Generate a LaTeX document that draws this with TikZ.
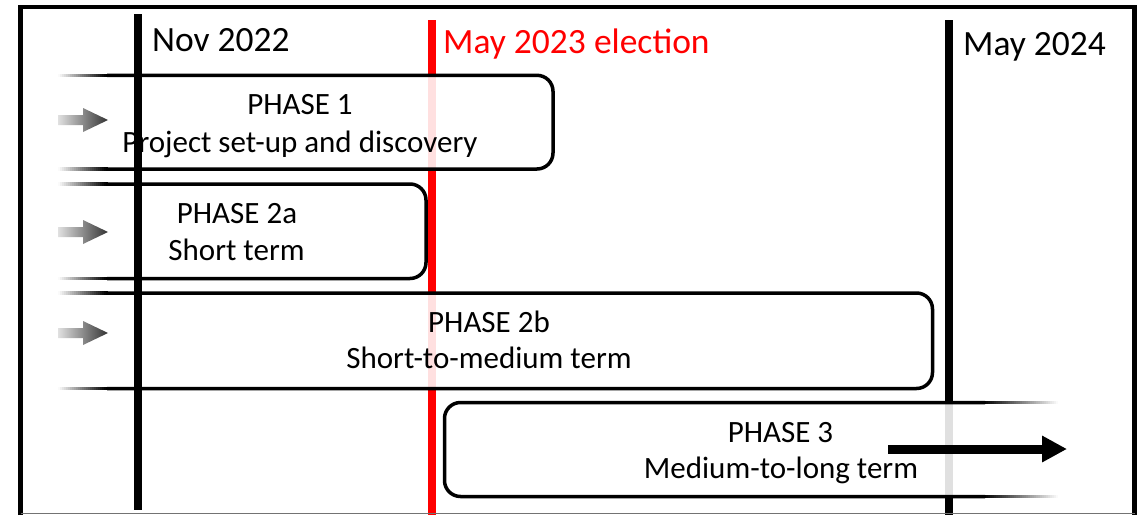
\documentclass[tikz,border=0pt]{standalone}
\usepackage{fontspec}
\setmainfont{Carlito}
\usetikzlibrary{arrows.meta}
\begin{document}
\begin{tikzpicture}[x=1pt,y=-1pt,
  headlbl/.style={font=\fontsize{35.5}{40}\selectfont, inner sep=0, anchor=base west},
  phasetxt/.style={font=\fontsize{31}{36}\selectfont, inner sep=0, anchor=base},
  timeline/.style={line width=8},
  boxline/.style={line width=3.5, rounded corners=16},
  boxfill/.style={fill=white, fill opacity=0.88, rounded corners=16},
  fadeseg/.style={line width=3.5},
  greyarrow/.style={left color=black!12, right color=black!80},
  bigarrow/.style={line width=9, -{Triangle[length=25pt,width=25pt]}}
]
\useasboundingbox (0,0) rectangle (1144,515);
\fill[white] (0,0) rectangle (1144,515);

% background time lines
\draw[timeline, red] (431.5,20) -- (431.5,515);
\draw[timeline, black] (948.5,20) -- (948.5,515);

% header labels
\node[headlbl] (nov) at (152,51) {Nov 2022};
\node[headlbl, text=red] (may23) at (443,53) {May 2023 election};
\node[headlbl] (may24) at (963,55) {May 2024};

% box fills
\fill[boxfill] (58,75.3) -- (553,75.3) -- (553,169) -- (58,169) -- cycle;
\fill[boxfill] (58,184) -- (426,184) -- (426,278.5) -- (58,278.5) -- cycle;
\fill[boxfill] (58,293) -- (932.5,293) -- (932.5,388.5) -- (58,388.5) -- cycle;
\fill[boxfill] (444.5,402.5) -- (1060,402.5) -- (1060,496.5) -- (444.5,496.5) -- cycle;

% box outlines
\draw[boxline] (107,75.3) -- (553,75.3) -- (553,169) -- (107,169);
\draw[boxline] (107,184) -- (426,184) -- (426,278.5) -- (107,278.5);
\draw[boxline] (107,293) -- (932.5,293) -- (932.5,388.5) -- (107,388.5);
\draw[boxline] (985,402.5) -- (444.5,402.5) -- (444.5,496.5) -- (985,496.5);

% fading line ends (left)
\foreach \yy in {75.3,169,184,278.5,293,388.5} {
  \foreach \i in {0,...,24} {
    \pgfmathtruncatemacro\pc{min(100,4.2*\i+2)}
    \draw[fadeseg, black!\pc] ({58+2*\i},\yy) -- ({60.2+2*\i},\yy);
  }
}
% fading line ends (right, phase 3)
\foreach \yy in {402.5,496.5} {
  \foreach \i in {0,...,37} {
    \pgfmathtruncatemacro\pc{max(0,100-2.7*\i)}
    \draw[fadeseg, black!\pc] ({984+2*\i},\yy) -- ({986.2+2*\i},\yy);
  }
}

% grey arrows
\shade[greyarrow] (58,115) -- (83,115) -- (83,108) -- (108,120) -- (83,132) -- (83,125) -- (58,125) -- cycle;
\shade[greyarrow] (58,227) -- (83,227) -- (83,220) -- (108,232) -- (83,244) -- (83,237) -- (58,237) -- cycle;
\shade[greyarrow] (58,328) -- (83,328) -- (83,321) -- (108,333) -- (83,345) -- (83,338) -- (58,338) -- cycle;

% phase texts
\node[phasetxt] (p1t) at (300,114) {PHASE 1};
\node[phasetxt] (p1s) at (300,152) {Project set-up and discovery};
\node[phasetxt] (p2at) at (237,223) {PHASE 2a};
\node[phasetxt] (p2as) at (236.5,260) {Short term};
\node[phasetxt] (p2bt) at (489,332) {PHASE 2b};
\node[phasetxt] (p2bs) at (489,368) {Short-to-medium term};
\node[phasetxt] (p3t) at (780.5,442) {PHASE 3};
\node[phasetxt] (p3s) at (781,478) {Medium-to-long term};

% phase 3 arrow
\coordinate (p3a) at (888,449);
\coordinate (p3b) at (1067,449);
\draw[bigarrow] (p3a) -- (p3b);

% Nov 2022 line on top
\draw[timeline, black] (138,14) -- (138,510);

% frame
\draw[line width=4.5] (20.5,515) -- (20.5,7) -- (1134.5,7) -- (1134.5,515);
\draw[line width=1.2, black!55] (20.5,513.6) -- (1134.5,513.6);
\end{tikzpicture}
\end{document}
